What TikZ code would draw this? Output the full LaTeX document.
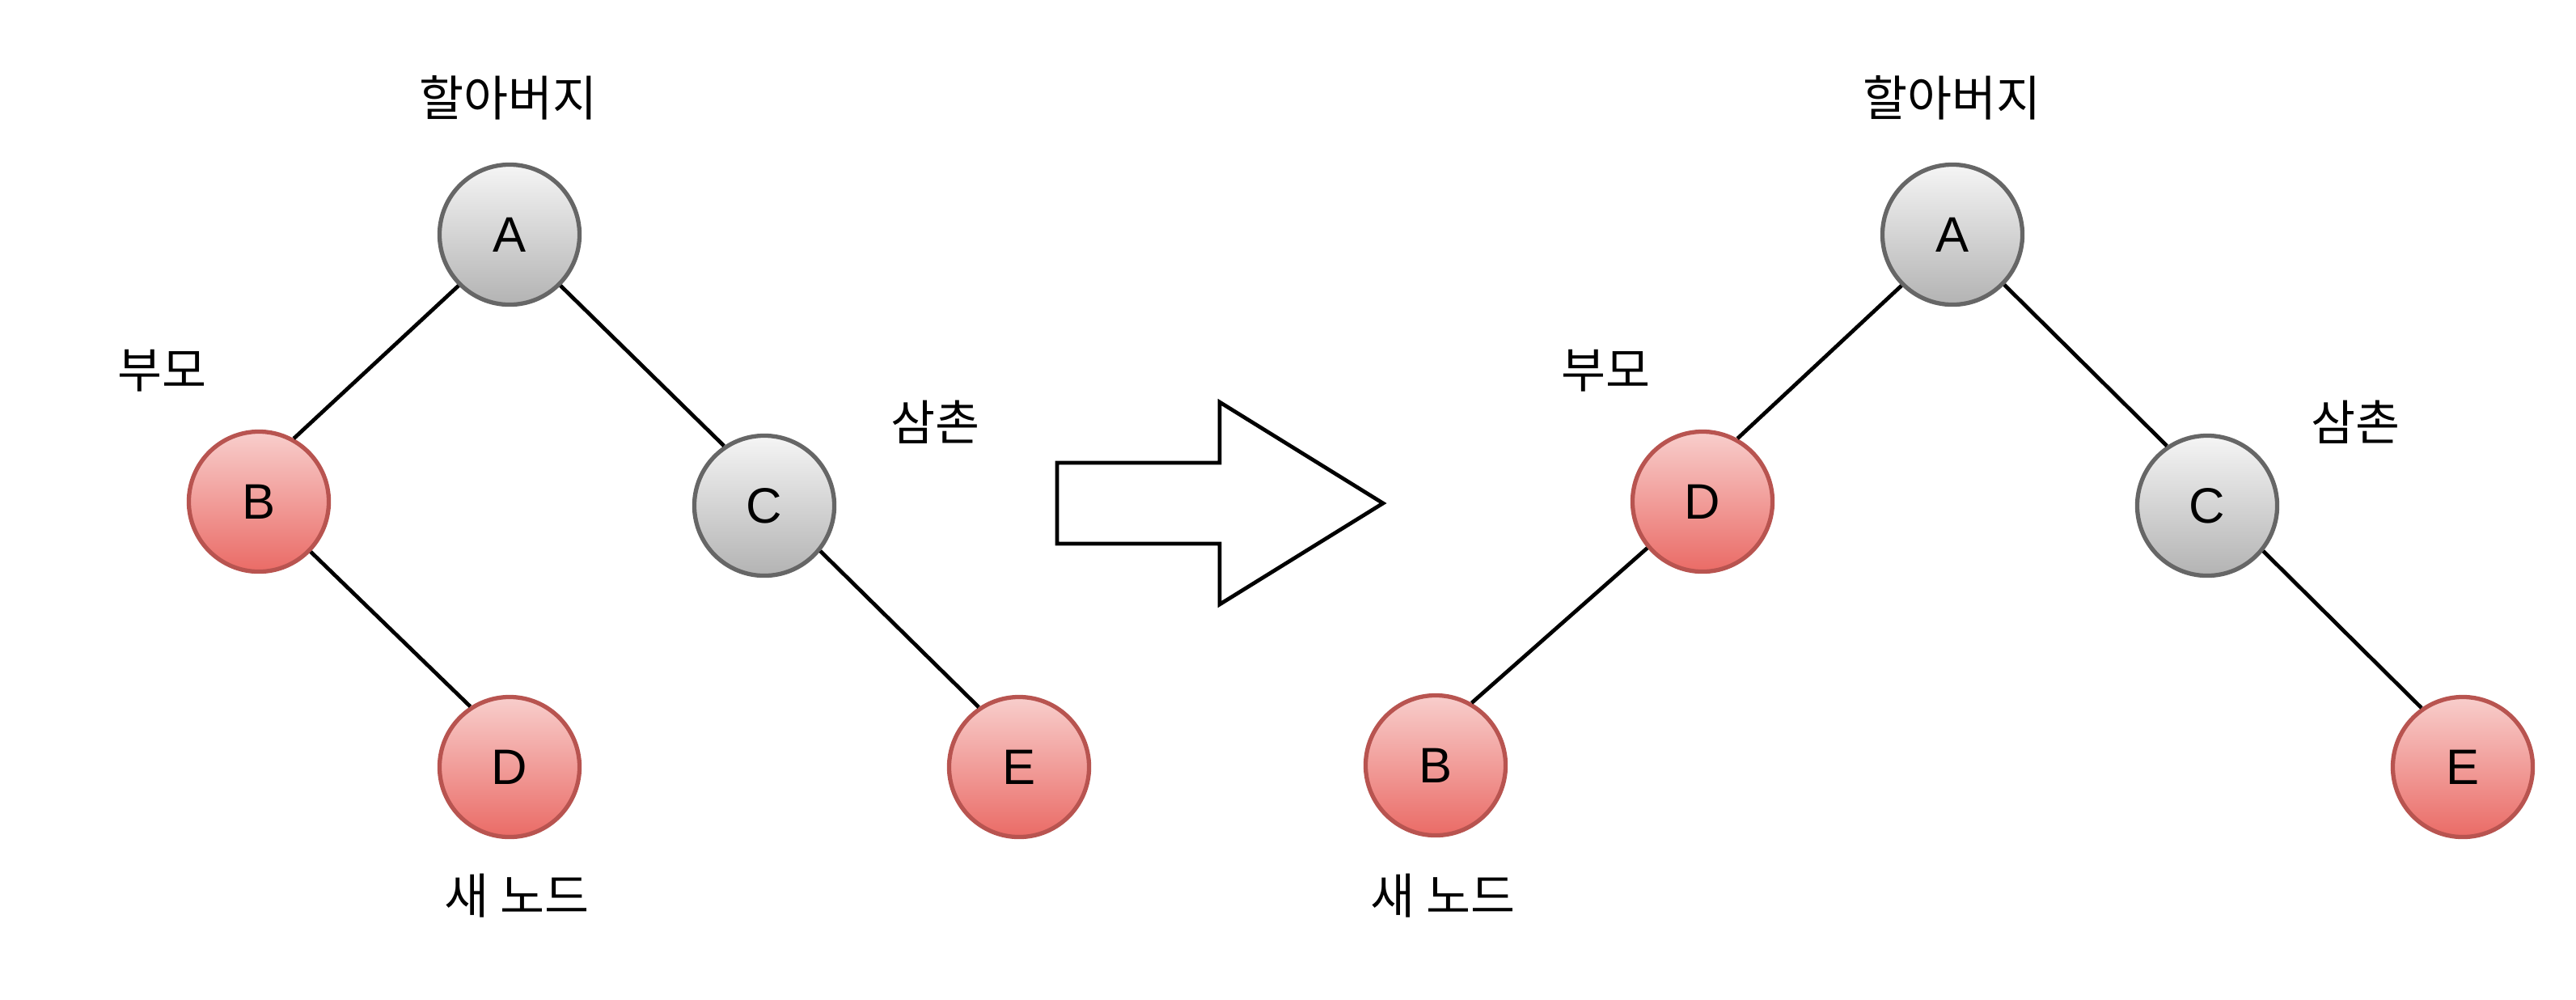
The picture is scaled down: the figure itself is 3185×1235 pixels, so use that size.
\documentclass[tikz,border=0pt]{standalone}
\usepackage{fontspec}
\setmainfont{Liberation Sans}
\newfontfamily\kr{Noto Sans CJK KR}
\usepackage{tikz}
\usetikzlibrary{positioning}
\definecolor{grayfill}{HTML}{F5F5F5}
\definecolor{graygrad}{HTML}{B3B3B3}
\definecolor{graydraw}{HTML}{666666}
\definecolor{redfill}{HTML}{F8CECC}
\definecolor{redgrad}{HTML}{EA6B66}
\definecolor{reddraw}{HTML}{B85450}
\begin{document}
\begin{tikzpicture}[x=0.01cm,y=-0.01cm,
    every node/.style={font=\fontsize{17.5}{20}\selectfont},
    grnode/.style={circle,draw=graydraw,line width=1.5pt,top color=grayfill,bottom color=graygrad,minimum size=1.73cm,inner sep=0pt},
    rdnode/.style={circle,draw=reddraw,line width=1.5pt,top color=redfill,bottom color=redgrad,minimum size=1.73cm,inner sep=0pt},
    tag/.style={font=\kr\fontsize{17}{20}\selectfont},
    link/.style={line width=1.35pt}]
                            \useasboundingbox (0,0) rectangle (3185,1235);
                            % before
                            \node[grnode] (A1) at (630,290) {A};
                            \node[rdnode] (B1) at (320,620) {B};
                            \node[grnode] (C1) at (945,625) {C};
                            \node[rdnode] (D1) at (630,948) {D};
                            \node[rdnode] (E1) at (1260,948) {E};
                            \node[tag] (g1) at (628,121) {할아버지};
                            \node[tag] (p1) at (200,458) {부모};
                            \node[tag] (u1) at (1156,522) {삼촌};
                            \node[tag] (n1) at (639,1107) {새 노드};
                            \draw[link] (A1.225) -- (B1.61)
                            (A1.315) -- (C1.124)
                            (B1.316) -- (D1.123)
                            (C1.321) -- (E1.124);
                            % arrow
                            \draw[line width=1.35pt] (1307,572) -- (1508,572) -- (1508,497) -- (1710,622)
                            -- (1508,747) -- (1508,672) -- (1307,672) -- cycle;
                            % after
                            \node[grnode] (A2) at (2414,290) {A};
                            \node[rdnode] (D2) at (2105,620) {D};
                            \node[grnode] (C2) at (2729,625) {C};
                            \node[rdnode] (B2) at (1775,946) {B};
                            \node[rdnode] (E2) at (3045,948) {E};
                            \node[tag] (g2) at (2413,121) {할아버지};
                            \node[tag] (p2) at (1985,458) {부모};
                            \node[tag] (u2) at (2912,522) {삼촌};
                            \node[tag] (n2) at (1784,1107) {새 노드};
                            \draw[link] (A2.225) -- (D2.61)
                            (A2.316) -- (C2.124)
                            (D2.220) -- (B2.60)
                            (C2.321) -- (E2.125);
                        \end{tikzpicture}
\end{document}
